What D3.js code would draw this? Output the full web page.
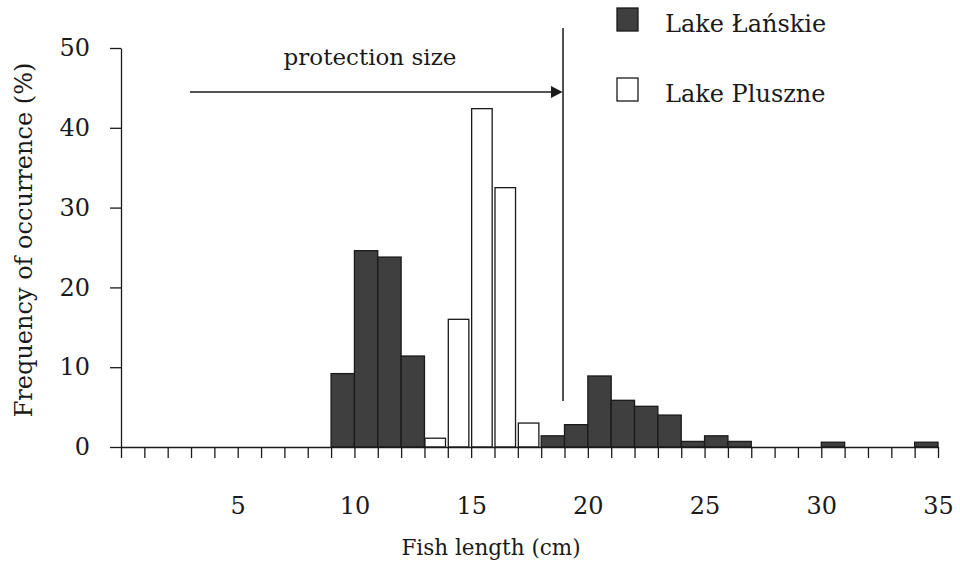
<!DOCTYPE html>
<html>
<head>
<meta charset="utf-8">
<script src="https://cdn.jsdelivr.net/npm/d3@7"></script>
<style>
    body { margin: 0; background: #fff; }
    text { font-family: "DejaVu Serif", "Liberation Serif", serif; fill: #1a1a1a; }
</style>
</head>
<body>
<div id="chart"></div>
<script>
'use strict';

// length classes (cm, left edge of 1 cm bin) and frequencies (%)
var lanskieBins = [9, 10, 11, 12, 18, 19, 20, 21, 22, 23, 24, 25, 26, 30, 34];
var lanskieValues = [9.2, 24.6, 23.8, 11.4, 1.4, 2.8, 8.9, 5.85, 5.1, 4.0, 0.7, 1.4, 0.7, 0.6, 0.6];
var pluszneBins = [13, 14, 15, 16, 17];
var pluszneValues = [1.1, 16.0, 42.4, 32.5, 3.0];
var xLabelTicks = [5, 10, 15, 20, 25, 30, 35];
var yTicks = [0, 10, 20, 30, 40, 50];
var protectionSize = 19;
var seriesNames = ['Lake Łańskie', 'Lake Pluszne'];

var w = 960;
var h = 564;
var dark = '#3f3f3f';
var ink = '#1a1a1a';

var x = d3.scaleLinear().domain([0, 35]).range([121, 938]);
var y = d3.scaleLinear().domain([0, 50]).range([447, 48]);

var svg = d3.select('#chart').append('svg').attr('width', w).attr('height', h);

paintBars();
paintAxes();
paintAnnotation();
paintLegend();

////////////

function paintBars() {
    var lanskie = lanskieBins.map(function (b, i) { return { bin: b, value: lanskieValues[i] }; });
    var pluszne = pluszneBins.map(function (b, i) { return { bin: b, value: pluszneValues[i] }; });
    var step = x(1) - x(0);

    svg.append('g').selectAll('rect')
        .data(lanskie)
        .enter().append('rect')
        .attr('x', function (d) { return x(d.bin); })
        .attr('y', function (d) { return y(d.value); })
        .attr('width', step)
        .attr('height', function (d) { return y(0) - y(d.value); })
        .attr('fill', dark)
        .attr('stroke', ink)
        .attr('stroke-width', 1.3);

    svg.append('g').selectAll('rect')
        .data(pluszne)
        .enter().append('rect')
        .attr('x', function (d) { return x(d.bin) + 0.5; })
        .attr('y', function (d) { return y(d.value); })
        .attr('width', step * 0.88)
        .attr('height', function (d) { return y(0) - y(d.value); })
        .attr('fill', '#fff')
        .attr('stroke', ink)
        .attr('stroke-width', 1.3);
}

function paintAxes() {
    var xAxis = d3.axisBottom(x)
        .tickValues(d3.range(0, 36))
        .tickSize(11)
        .tickSizeOuter(0)
        .tickPadding(39)
        .tickFormat(function (d) { return xLabelTicks.indexOf(d) > -1 ? d : ''; });

    var yAxis = d3.axisLeft(y)
        .tickValues(yTicks)
        .tickSize(11)
        .tickSizeOuter(0)
        .tickPadding(20);

    var gx = svg.append('g').attr('transform', 'translate(0,' + y(0) + ')').call(xAxis);
    var gy = svg.append('g').attr('transform', 'translate(' + x(0) + ',0)').call(yAxis);

    [gx, gy].forEach(function (g) {
        g.selectAll('path, line').attr('stroke', ink).attr('stroke-width', 1.3);
        g.selectAll('text').attr('font-size', 24).attr('font-family', null).attr('fill', ink);
    });

    svg.append('text')
        .attr('x', 491)
        .attr('y', 555)
        .attr('text-anchor', 'middle')
        .attr('font-size', 21.5)
        .text('Fish length (cm)');

    svg.append('text')
        .attr('transform', 'translate(32,240) rotate(-90)')
        .attr('text-anchor', 'middle')
        .attr('font-size', 24)
        .text('Frequency of occurrence (%)');
}

function paintAnnotation() {
    var px = x(protectionSize) - 1.5;
    var ay = 92;

    svg.append('line')
        .attr('x1', px).attr('x2', px)
        .attr('y1', 28).attr('y2', 401)
        .attr('stroke', ink).attr('stroke-width', 1.5);

    svg.append('line')
        .attr('x1', 190).attr('x2', px - 10)
        .attr('y1', ay).attr('y2', ay)
        .attr('stroke', ink).attr('stroke-width', 1.5);

    svg.append('path')
        .attr('d', 'M' + (px - 12) + ',' + (ay - 6) + 'L' + (px - 0.5) + ',' + ay + 'L' + (px - 12) + ',' + (ay + 6) + 'Z')
        .attr('fill', ink);

    svg.append('text')
        .attr('x', 370)
        .attr('y', 65)
        .attr('text-anchor', 'middle')
        .attr('font-size', 23)
        .text('protection size');
}

function paintLegend() {
    var fills = [dark, '#fff'];
    var g = svg.append('g').selectAll('g')
        .data(seriesNames)
        .enter().append('g')
        .attr('transform', function (d, i) { return 'translate(617,' + (8 + i * 70) + ')'; });

    g.append('rect')
        .attr('width', 21)
        .attr('height', 23)
        .attr('fill', function (d, i) { return fills[i]; })
        .attr('stroke', ink)
        .attr('stroke-width', 1.3);

    g.append('text')
        .attr('x', 48)
        .attr('y', 24)
        .attr('font-size', 24)
        .text(function (d) { return d; });
}
</script>
</body>
</html>
